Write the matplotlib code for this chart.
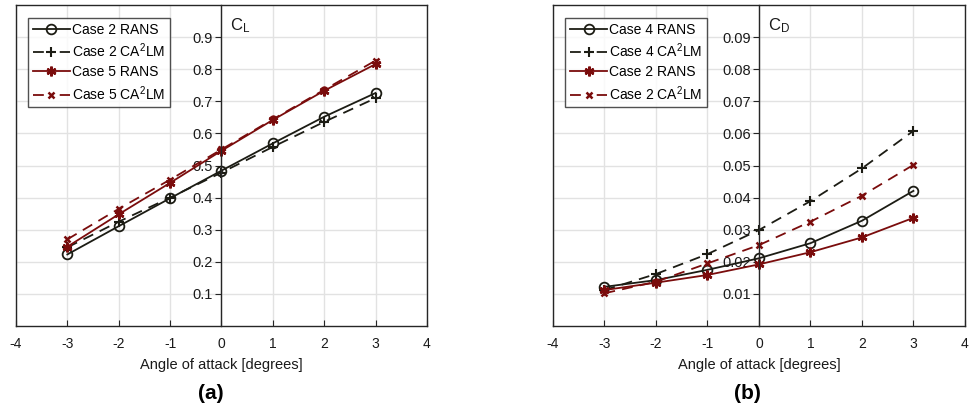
import numpy as np
import matplotlib.pyplot as plt

plt.rcParams['font.family'] = ['Liberation Sans', 'DejaVu Sans']
plt.rcParams['mathtext.fontset'] = 'custom'
plt.rcParams['mathtext.rm'] = 'Liberation Sans'
plt.rcParams['axes.unicode_minus'] = False
plt.rcParams['lines.dashed_pattern'] = (6, 4)

# angle of attack
aoa = [-3, -2, -1, 0, 1, 2, 3]

# lift coefficient (a)
cl_case2_rans = [0.223, 0.311, 0.398, 0.484, 0.569, 0.652, 0.726]
cl_case2_ca2lm = [0.245, 0.325, 0.400, 0.478, 0.558, 0.636, 0.710]
cl_case5_rans = [0.247, 0.348, 0.446, 0.546, 0.642, 0.733, 0.816]
cl_case5_ca2lm = [0.270, 0.365, 0.456, 0.550, 0.644, 0.736, 0.827]

# drag coefficient (b)
cd_case4_rans = [0.0122, 0.0143, 0.0175, 0.0211, 0.0258, 0.0328, 0.0421]
cd_case4_ca2lm = [0.0112, 0.0162, 0.0224, 0.0299, 0.0389, 0.0491, 0.0608]
cd_case2_rans = [0.0112, 0.0135, 0.0159, 0.0192, 0.0230, 0.0276, 0.0337]
cd_case2_ca2lm = [0.0102, 0.0138, 0.0195, 0.0252, 0.0325, 0.0406, 0.0502]

dark = '#1c1c14'
red = '#7a0c0c'
asterisk = (6, 2, 0)

fig = plt.figure(figsize=(9.73, 4.09), dpi=100)
ax1 = fig.add_axes([0.0164, 0.2029, 0.4224, 0.7848])
ax2 = fig.add_axes([0.5683, 0.2029, 0.4234, 0.7848])


def style(ax, ymax, yticks, ylabel, panel):
    ax.set_xlim(-4, 4)
    ax.set_ylim(0, ymax)
    ax.set_xticks(np.arange(-4, 5))
    ax.set_yticks(yticks)
    ax.grid(True, color='#e2e2e2', linewidth=1.0)
    ax.set_axisbelow(True)
    for s in ax.spines.values():
        s.set_color('#262626')
        s.set_linewidth(1.0)
    ax.spines['left'].set_position(('data', 0))
    # left edge of the box
    ax.plot([0, 0], [0, 1], transform=ax.transAxes, color='#262626',
            lw=1.0, clip_on=False)
    ax.tick_params(axis='x', direction='in', length=4, pad=8,
                   labelsize=10, colors='#262626', labelcolor='#1a1a1a')
    ax.tick_params(axis='y', direction='out', length=4, pad=2,
                   labelsize=10.5, colors='#262626', labelcolor='#1a1a1a')
    ax.set_xlabel('Angle of attack [degrees]', fontsize=10.5, labelpad=5,
                  color='#1a1a1a')
    ax.text(0.17, ymax * 0.935, ylabel, fontsize=12, color='#1a1a1a',
            ha='left', va='center')
    ax.text(0.5 - 0.027, -0.21, panel, transform=ax.transAxes,
            fontsize=15, fontweight='bold', ha='center', va='center')
    leg = ax.legend(loc='upper left', bbox_to_anchor=(0.029, 0.96),
                    fontsize=10, frameon=True, fancybox=False,
                    handlelength=2.7, handletextpad=0.1, borderpad=0.35,
                    labelspacing=0.35, borderaxespad=0)
    leg.get_frame().set_edgecolor('#262626')
    leg.get_frame().set_linewidth(1.0)
    # dash - marker - dash in the legend handles
    for line in leg.get_lines():
        if line.get_linestyle() == '--':
            line.set_dashes((6, 8.8))


ax1.plot(aoa, cl_case2_rans, '-', color=dark, lw=1.3, marker='o',
         ms=7, mfc='none', mew=1.3, label='Case 2 RANS')
ax1.plot(aoa, cl_case2_ca2lm, '--', color=dark, lw=1.3, marker='+',
         ms=7, mew=1.5, label='Case 2 CA$^\\mathregular{2}$LM')
ax1.plot(aoa, cl_case5_rans, '-', color=red, lw=1.3, marker=asterisk,
         ms=7, mew=1.8, label='Case 5 RANS')
ax1.plot(aoa, cl_case5_ca2lm, '--', color=red, lw=1.3, marker='x',
         ms=5, mew=1.8, label='Case 5 CA$^\\mathregular{2}$LM')
style(ax1, 1.0, np.arange(0.1, 0.95, 0.1), '$\\mathregular{C_L}$', '(a)')
ax1.set_yticklabels(['%.1f' % v for v in np.arange(0.1, 0.95, 0.1)])

ax2.plot(aoa, cd_case4_rans, '-', color=dark, lw=1.3, marker='o',
         ms=7, mfc='none', mew=1.3, label='Case 4 RANS')
ax2.plot(aoa, cd_case4_ca2lm, '--', color=dark, lw=1.3, marker='+',
         ms=7, mew=1.5, label='Case 4 CA$^\\mathregular{2}$LM')
ax2.plot(aoa, cd_case2_rans, '-', color=red, lw=1.3, marker=asterisk,
         ms=7, mew=1.8, label='Case 2 RANS')
ax2.plot(aoa, cd_case2_ca2lm, '--', color=red, lw=1.3, marker='x',
         ms=5, mew=1.8, label='Case 2 CA$^\\mathregular{2}$LM')
style(ax2, 0.1, np.arange(0.01, 0.095, 0.01), '$\\mathregular{C_D}$', '(b)')
ax2.set_yticklabels(['%.2f' % v for v in np.arange(0.01, 0.095, 0.01)])

fig.savefig('out.png', dpi=100)
